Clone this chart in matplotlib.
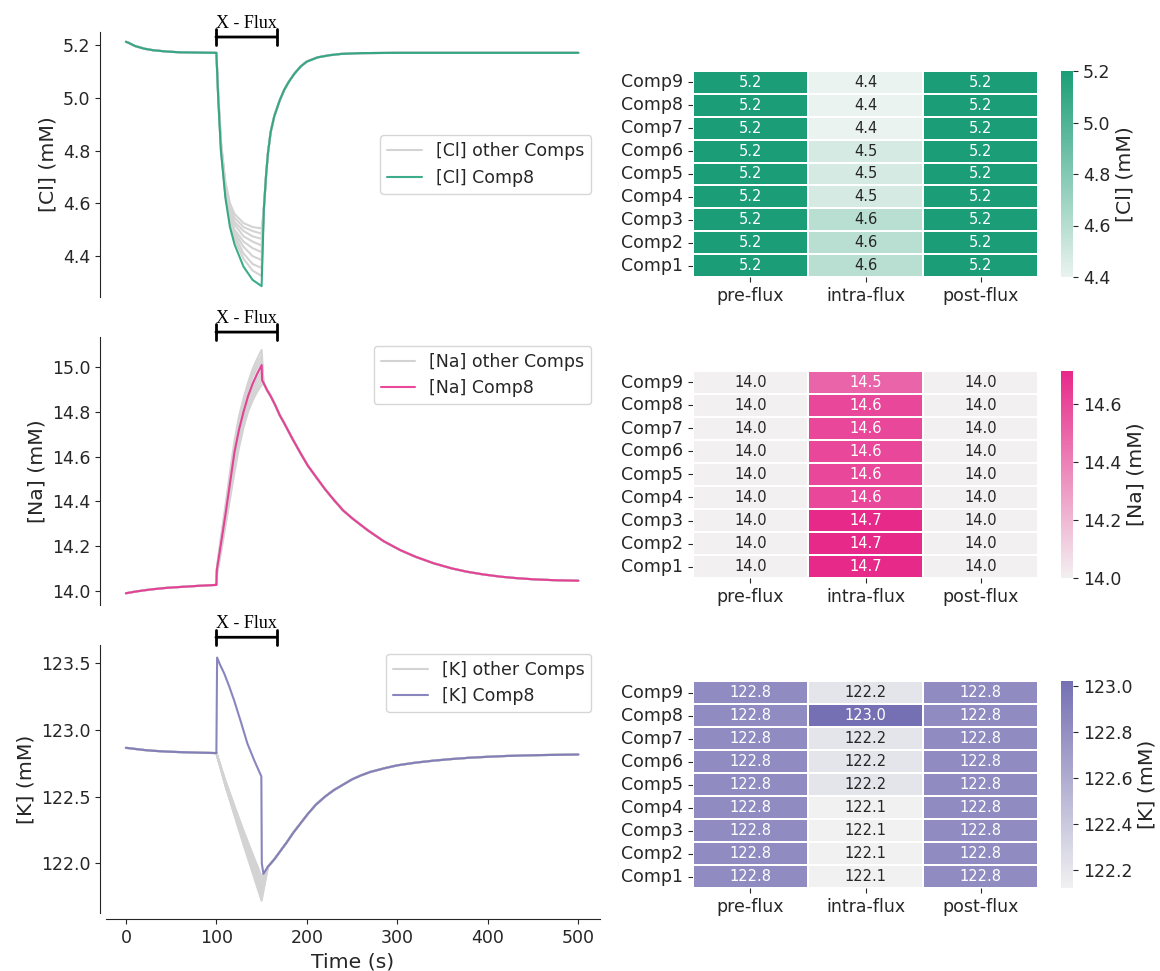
import numpy as np
import pandas as pd
import matplotlib
matplotlib.use('Agg')
import matplotlib.pyplot as plt
import seaborn as sns

# ---------------- data ----------------
comps = ['Comp1', 'Comp2', 'Comp3', 'Comp4', 'Comp5', 'Comp6', 'Comp7', 'Comp8', 'Comp9']
periods = ['pre-flux', 'intra-flux', 'post-flux']

# heatmap values (rows Comp1..Comp9)
cl_pre = [5.20, 5.20, 5.20, 5.20, 5.20, 5.20, 5.20, 5.20, 5.20]
cl_intra = [4.59, 4.59, 4.59, 4.48, 4.48, 4.48, 4.40, 4.40, 4.40]
cl_post = [5.20, 5.20, 5.20, 5.20, 5.20, 5.20, 5.20, 5.20, 5.20]

na_pre = [14.0, 14.0, 14.0, 14.0, 14.0, 14.0, 14.0, 14.0, 14.0]
na_intra = [14.714, 14.714, 14.714, 14.607, 14.607, 14.607, 14.607, 14.607, 14.50]
na_post = [14.0, 14.0, 14.0, 14.0, 14.0, 14.0, 14.0, 14.0, 14.0]

k_pre = [122.82, 122.82, 122.82, 122.82, 122.82, 122.82, 122.82, 122.82, 122.82]
k_intra = [122.12, 122.12, 122.12, 122.12, 122.21, 122.21, 122.21, 123.02, 122.21]
k_post = [122.82, 122.82, 122.82, 122.82, 122.82, 122.82, 122.82, 122.82, 122.82]

# time series
t_pre = [0, 3, 10, 20, 30, 45, 60, 80, 99]
cl_pre_v = [5.212, 5.208, 5.196, 5.186, 5.180, 5.175, 5.172, 5.171, 5.170]
cl_intra_t = [100, 102, 105, 110, 115, 120, 130, 140, 150]
cl_comp8_intra = [5.170, 5.00, 4.80, 4.62, 4.51, 4.445, 4.36, 4.31, 4.286]
cl_other_intra = [
    [5.170, 5.02, 4.84, 4.68, 4.60, 4.56, 4.525, 4.51, 4.505],
    [5.170, 5.02, 4.83, 4.67, 4.59, 4.545, 4.51, 4.495, 4.485],
    [5.170, 5.01, 4.83, 4.66, 4.58, 4.53, 4.495, 4.475, 4.465],
    [5.170, 5.01, 4.82, 4.65, 4.57, 4.52, 4.475, 4.455, 4.44],
    [5.170, 5.01, 4.82, 4.65, 4.56, 4.50, 4.455, 4.43, 4.415],
    [5.170, 5.01, 4.81, 4.64, 4.55, 4.49, 4.435, 4.40, 4.385],
    [5.170, 5.00, 4.81, 4.63, 4.54, 4.48, 4.41, 4.37, 4.355],
    [5.170, 5.00, 4.80, 4.63, 4.53, 4.465, 4.39, 4.345, 4.325],
]
cl_post_t = [152.5, 155, 157, 160, 164, 170, 175, 180, 186, 193, 200, 212, 225, 238, 260,
             300, 400, 500]
cl_post_v = [4.58, 4.71, 4.79, 4.87, 4.93, 4.99, 5.03, 5.06, 5.09, 5.118, 5.137, 5.153,
             5.161, 5.166, 5.169, 5.170, 5.170, 5.170]

na_pre_v = [13.990, 13.992, 13.997, 14.003, 14.008, 14.014, 14.018, 14.023, 14.027]
na_intra_t = [100, 100.5, 105, 110, 115, 120, 125, 130, 135, 140, 145, 150]
na_comp8_intra = [14.027, 14.094, 14.21, 14.34, 14.48, 14.62, 14.72, 14.80, 14.87, 14.925, 14.97, 15.009]
na_comp8_dip_t = [150.6]
na_comp8_dip_v = [14.94]
na_other_intra = [
    [14.027, 14.10, 14.24, 14.38, 14.53, 14.67, 14.78, 14.86, 14.93, 14.99, 15.035, 15.076],
    [14.027, 14.10, 14.23, 14.37, 14.51, 14.65, 14.76, 14.845, 14.915, 14.97, 15.015, 15.05],
    [14.027, 14.095, 14.225, 14.36, 14.50, 14.64, 14.745, 14.83, 14.90, 14.955, 14.995, 15.03],
    [14.027, 14.09, 14.21, 14.34, 14.48, 14.61, 14.72, 14.80, 14.87, 14.925, 14.965, 15.00],
    [14.027, 14.085, 14.20, 14.33, 14.46, 14.59, 14.70, 14.78, 14.85, 14.905, 14.945, 14.98],
    [14.027, 14.08, 14.19, 14.31, 14.44, 14.57, 14.68, 14.76, 14.83, 14.885, 14.925, 14.96],
    [14.027, 14.075, 14.18, 14.30, 14.42, 14.55, 14.66, 14.745, 14.815, 14.865, 14.905, 14.94],
    [14.027, 14.07, 14.17, 14.29, 14.41, 14.53, 14.64, 14.73, 14.80, 14.85, 14.89, 14.92],
]
na_post_t = [152, 156, 160, 165, 170, 175, 184, 193, 201, 210, 220, 230, 240, 250, 267, 285,
             303, 320, 340, 360, 377, 395, 414, 430, 451, 475, 500]
na_post_v = [14.93, 14.897, 14.87, 14.83, 14.785, 14.749, 14.68, 14.615, 14.56, 14.51, 14.455,
             14.406, 14.36, 14.325, 14.272, 14.222, 14.183, 14.153, 14.124, 14.101, 14.086,
             14.074, 14.064, 14.058, 14.052, 14.048, 14.046]

k_pre_v = [122.866, 122.864, 122.858, 122.850, 122.844, 122.838, 122.834, 122.830, 122.827]
k_comp8_intra_t = [100, 100.8, 104, 108.7, 114, 119.6, 127.1, 134.3, 141.8, 149.7, 150.2, 152]
k_comp8_intra = [122.827, 123.543, 123.49, 123.423, 123.33, 123.222, 123.06, 122.898, 122.773,
                 122.652, 122.0, 121.922]
k_intra_t = [100, 110, 120, 130, 140, 150]
k_other_intra = [
    [122.827, 122.58, 122.36, 122.14, 121.93, 121.72],
    [122.827, 122.585, 122.37, 122.155, 121.95, 121.745],
    [122.827, 122.59, 122.38, 122.17, 121.97, 121.77],
    [122.827, 122.595, 122.39, 122.185, 121.99, 121.795],
    [122.827, 122.60, 122.40, 122.20, 122.01, 121.82],
    [122.827, 122.61, 122.41, 122.215, 122.03, 121.845],
    [122.827, 122.615, 122.42, 122.23, 122.05, 121.87],
    [122.827, 122.62, 122.43, 122.245, 122.07, 121.90],
]
k_post_t = [157, 164, 171, 178, 185, 193, 201, 210, 220, 230, 240, 250, 260, 270, 285, 300,
            320, 340, 360, 380, 400, 420, 440, 460, 480, 500]
k_post_v = [121.975, 122.03, 122.095, 122.16, 122.23, 122.30, 122.37, 122.44, 122.50, 122.55,
            122.59, 122.63, 122.66, 122.685, 122.712, 122.735, 122.755, 122.77, 122.782,
            122.792, 122.799, 122.805, 122.809, 122.812, 122.814, 122.816]

# ---------------- style ----------------
sns.set_style('ticks')
plt.rcParams['font.family'] = ['DejaVu Sans']
TXT = '#262626'
GRAY = '#d3d3d3'
C_CL, C_NA, C_K = '#1b9e77', '#e7298a', '#7570b3'
TICK_FS = 12.5
LABEL_FS = 14.7

W, H = 1160, 971
fig = plt.figure(figsize=(W / 100, H / 100), dpi=100)


def fx(px):
    return px / W


def fy(px):
    return 1 - px / H


def line_axes(top, bottom):
    return fig.add_axes([fx(106), fy(bottom), fx(600) - fx(106), fy(top) - fy(bottom)])


def cat(*parts):
    return np.concatenate([np.asarray(p, dtype=float) for p in parts])


def draw_line_panel(ax, ion, color, others_t, others_v, c8_t, c8_v, ylim, ybr, legloc):
    for i, ov in enumerate(others_v):
        ax.plot(others_t, ov, color=GRAY, lw=1.5,
                label=f'[{ion}] other Comps' if i == 0 else None)
    ax.plot(c8_t, c8_v, color=color, lw=1.5, alpha=0.85, label=f'[{ion}] Comp8')
    ax.set_xlim(-22, 524)
    ax.set_ylim(*ylim)
    ax.set_ylabel(f'[{ion}] (mM)', fontsize=LABEL_FS, color=TXT)
    ax.tick_params(axis='y', labelsize=TICK_FS, colors=TXT)
    for s in ['top', 'right']:
        ax.spines[s].set_visible(False)
    ax.spines['left'].set_position(('outward', 4.3))
    leg = ax.legend(loc=legloc, fontsize=TICK_FS, frameon=True)
    for txt in leg.get_texts():
        txt.set_color(TXT)
    # X - Flux bracket
    ax.annotate('', xy=(99.5, ybr), xytext=(167, ybr), xycoords='data',
                arrowprops=dict(arrowstyle='|-|,widthA=0.55,widthB=0.55', lw=2,
                                color='black', shrinkA=0, shrinkB=0),
                annotation_clip=False)
    ax.annotate('X - Flux', xy=(133.5, ybr), xytext=(0, 3.5), textcoords='offset points',
                ha='center', va='bottom', family='Liberation Serif', fontsize=13,
                color='black', annotation_clip=False)


# Cl
ax1 = line_axes(32, 297)
cl_others = [cat(cl_pre_v, ov, cl_post_v) for ov in cl_other_intra]
cl_t = cat(t_pre, cl_intra_t, cl_post_t)
draw_line_panel(ax1, 'Cl', C_CL, cl_t, cl_others, cl_t,
                cat(cl_pre_v, cl_comp8_intra, cl_post_v), (4.245, 5.249), 5.230, 'center right')
ax1.xaxis.set_visible(False)
ax1.spines['bottom'].set_visible(False)

# Na
ax2 = line_axes(337, 605)
na_t = cat(t_pre, na_intra_t, na_post_t)
na_others = [cat(na_pre_v, ov, na_post_v) for ov in na_other_intra]
na_c8_t = cat(t_pre, na_intra_t, na_comp8_dip_t, na_post_t)
na_c8_v = cat(na_pre_v, na_comp8_intra, na_comp8_dip_v, na_post_v)
draw_line_panel(ax2, 'Na', C_NA, na_t, na_others, na_c8_t, na_c8_v,
                (13.9375, 15.134), 15.156, 'upper right')
ax2.xaxis.set_visible(False)
ax2.spines['bottom'].set_visible(False)

# K
ax3 = line_axes(645, 913)
k_t = cat(t_pre, k_intra_t, k_post_t)
k_others = [cat(k_pre_v, ov, k_post_v) for ov in k_other_intra]
k_c8_t = cat(t_pre, k_comp8_intra_t, k_post_t)
k_c8_v = cat(k_pre_v, k_comp8_intra, k_post_v)
draw_line_panel(ax3, 'K', C_K, k_t, k_others, k_c8_t, k_c8_v,
                (121.628, 123.637), 123.695, 'upper right')
ax3.spines['bottom'].set_position(('outward', 4.3))
ax3.set_xticks([0, 100, 200, 300, 400, 500])
ax3.tick_params(axis='x', labelsize=TICK_FS, colors=TXT)
ax3.set_xlabel('Time (s)', fontsize=LABEL_FS, color=TXT)

# ---------------- heatmaps ----------------


def heat(top, bottom, pre, intra, post, color, ion):
    ax = fig.add_axes([fx(693), fy(bottom), fx(1038) - fx(693), fy(top) - fy(bottom)])
    cax = fig.add_axes([fx(1061), fy(bottom), fx(1073) - fx(1061), fy(top) - fy(bottom)])
    df = pd.DataFrame({periods[0]: pre, periods[1]: intra, periods[2]: post}, index=comps)
    df = df.iloc[::-1]
    cmap = sns.light_palette(color, as_cmap=True)
    sns.heatmap(df, ax=ax, cbar_ax=cax, cmap=cmap, annot=True, fmt='.1f',
                linewidths=1.2, linecolor='white', annot_kws={'size': 10.5})
    ax.set_yticklabels(ax.get_yticklabels(), rotation=0, fontsize=TICK_FS, color=TXT)
    ax.set_xticklabels(ax.get_xticklabels(), rotation=0, fontsize=TICK_FS, color=TXT)
    ax.tick_params(axis='both', length=3.5, colors=TXT)
    cax.tick_params(labelsize=TICK_FS, colors=TXT, length=3.5)
    cax.set_ylabel(f'[{ion}] (mM)', fontsize=LABEL_FS, color=TXT)
    return ax


heat(71, 277, cl_pre, cl_intra, cl_post, C_CL, 'Cl')
heat(371, 578, na_pre, na_intra, na_post, C_NA, 'Na')
heat(681, 888, k_pre, k_intra, k_post, C_K, 'K')

fig.savefig('out.png', dpi=100)
